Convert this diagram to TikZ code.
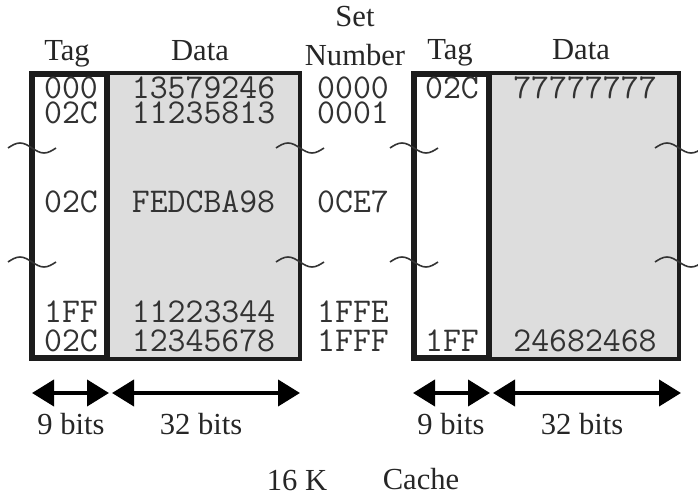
\documentclass[tikz,border=0pt]{standalone}
\usepackage{fontspec}
\setmainfont{Liberation Serif}
\usetikzlibrary{arrows.meta}

\definecolor{datagray}{RGB}{221, 221, 221}
\definecolor{inkgray}{RGB}{50, 50, 50}
\definecolor{framecol}{RGB}{28, 28, 28}

\tikzset{
  hexval/.style={font=\fontsize{17.4}{15}\selectfont\ttfamily, text=inkgray, inner sep=0pt, anchor=base},
  heading/.style={font=\fontsize{15.3}{15}\selectfont, text=black!85, inner sep=0pt, anchor=base},
  tagbox/.style={draw=framecol, line width=3pt},
  databox/.style={draw=framecol, line width=2.2pt, fill=datagray},
  widtharrow/.style={line width=2pt, {Triangle[length=11pt,width=13pt]}-{Triangle[length=11pt,width=13pt]}},
  brk/.style={draw=black!80, line width=0.8pt}
}

\begin{document}
\begin{tikzpicture}[x=0.5pt, y=-0.5pt]
    \useasboundingbox (0,0) rectangle (698,497);

    % Left way: data and tag columns
    \draw[databox] (107,73) rectangle (300,359);
    \draw[tagbox] (32,74) rectangle (107,358);

    % Right way: data and tag columns
    \draw[databox] (489,73) rectangle (679,359);
    \draw[tagbox] (414,74) rectangle (489,358);

    % Column headings
    \node[heading] (tagLhead) at (67,61) {Tag};
    \node[heading] (dataLhead) at (200,61) {Data};
    \node[heading] (sethead) at (355,27) {Set};
    \node[heading] (numhead) at (355,66) {Number};
    \node[heading] (tagRhead) at (450,60) {Tag};
    \node[heading] (dataRhead) at (581,60) {Data};

    % Rows of the left way and the set numbers
    \foreach \y/\tg/\dt/\sn [count=\i] in {99/000/13579246/0000, 124/02C/11235813/0001,
        213/02C/FEDCBA98/0CE7, 323/1FF/11223344/1FFE, 352/02C/12345678/1FFF} {
      \node[hexval] (tagL\i) at (71,\y) {\tg};
      \node[hexval] (dataL\i) at (203.5,\y) {\dt};
      \node[hexval] (set\i) at (353,\y) {\sn};
    }

    % Rows of the right way
    \node[hexval] (tagR1) at (452,99) {02C};
    \node[hexval] (dataR1) at (585,99) {77777777};
    \node[hexval] (tagR5) at (452,352) {1FF};
    \node[hexval] (dataR5) at (585,352) {24682468};

    % Break marks
    \foreach \x/\y in {32/148, 300/148, 32/262, 300/262, 414/148, 679/148, 414/262, 679/262}
      \draw[brk] (\x-24,\y) sin (\x-12,\y-5) cos (\x,\y) sin (\x+12,\y+5) cos (\x+24,\y);

    % Field widths
    \coordinate (tagLa) at (32,393);
    \coordinate (tagLb) at (109,393);
    \coordinate (dataLa) at (112,393);
    \coordinate (dataLb) at (300,393);
    \coordinate (tagRa) at (413,393);
    \coordinate (tagRb) at (490,393);
    \coordinate (dataRa) at (493,393);
    \coordinate (dataRb) at (681,393);
    \draw[widtharrow] (tagLa) -- (tagLb);
    \draw[widtharrow] (dataLa) -- (dataLb);
    \draw[widtharrow] (tagRa) -- (tagRb);
    \draw[widtharrow] (dataRa) -- (dataRb);
    \node[heading] (tagLbits) at (71,435) {9 bits};
    \node[heading] (dataLbits) at (201,435) {32 bits};
    \node[heading] (tagRbits) at (451,435) {9 bits};
    \node[heading] (dataRbits) at (582,435) {32 bits};

    % Caption
    \node[heading] (size) at (297,491) {16 K};
    \node[heading] (cache) at (421,490) {Cache};
\end{tikzpicture}
\end{document}
